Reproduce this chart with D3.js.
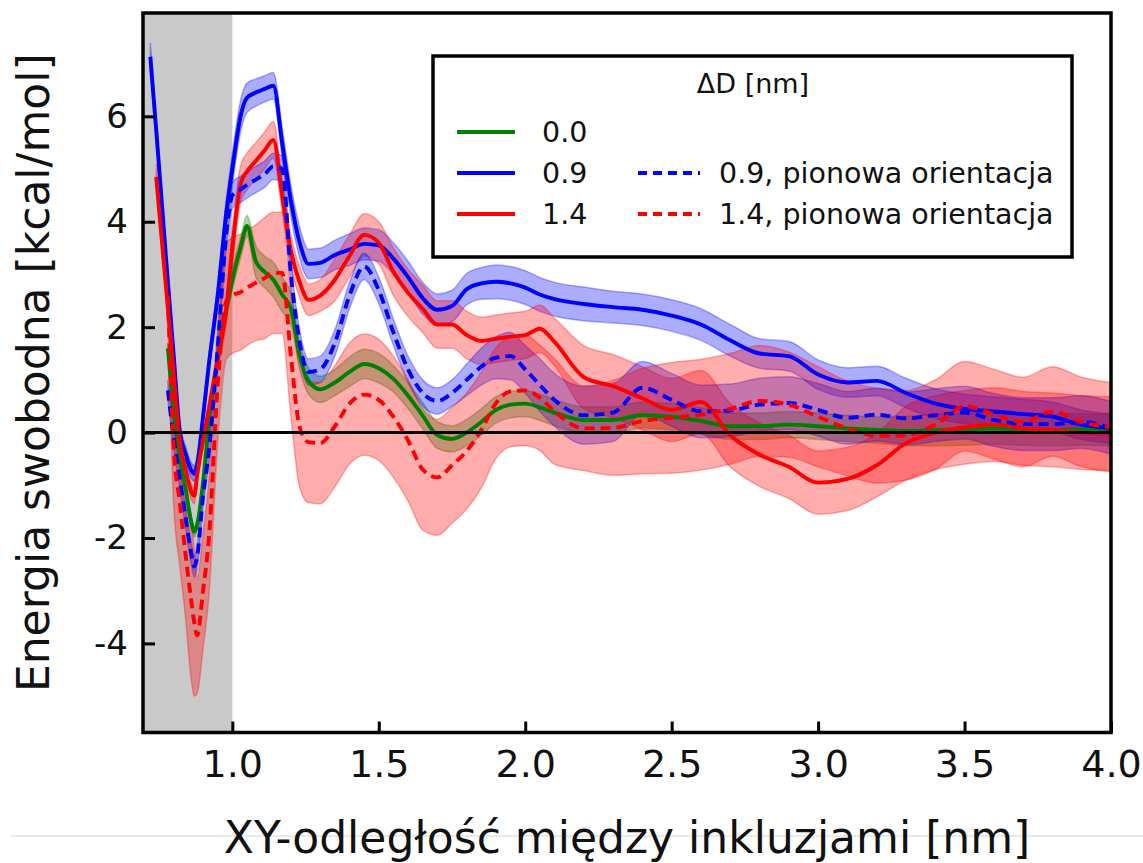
<!DOCTYPE html>
<html>
<head>
<meta charset="utf-8">
<script src="https://cdn.jsdelivr.net/npm/d3@7"></script>
<style>
  body { margin: 0; background: #fff; }
  svg { display: block; font-family: 'DejaVu Sans', Verdana, sans-serif; }
</style>
</head>
<body>
<div id="chart"></div>
<script>
// XY distance grid [nm]
const dist = [0.72, 0.74, 0.76, 0.78, 0.80, 0.82, 0.84, 0.86, 0.87, 0.88,
  0.90, 0.92, 0.95, 0.98, 1.00, 1.03, 1.05, 1.08, 1.11, 1.14,
  1.17, 1.20, 1.23, 1.26, 1.30, 1.35, 1.40, 1.45, 1.50, 1.55,
  1.60, 1.65, 1.70, 1.75, 1.80, 1.85, 1.90, 1.95, 2.00, 2.05,
  2.10, 2.20, 2.30, 2.40, 2.50, 2.60, 2.70, 2.80, 2.90, 3.00,
  3.10, 3.20, 3.30, 3.40, 3.50, 3.60, 3.70, 3.80, 3.90, 4.00];

// dD = 0.0
const g00 = [null, null, null, 1.6, 0.4, -0.45, -1.05, -1.7, -1.88, -1.75,
  -0.95, 0.2, 1.4, 2.35, 2.9, 3.55, 3.92, 3.25, 3.05, 2.9,
  2.62, 2.35, 1.45, 0.98, 0.82, 0.95, 1.15, 1.3, 1.22, 1.02,
  0.7, 0.32, -0.05, -0.12, 0.0, 0.2, 0.43, 0.53, 0.55, 0.48,
  0.38, 0.24, 0.24, 0.33, 0.3, 0.22, 0.12, 0.12, 0.15, 0.12,
  0.08, 0.05, 0.03, 0.05, 0.06, 0.08, 0.06, 0.05, 0.06, 0.05];
const g00Err = [0, 0, 0, 0.1, 0.1, 0.1, 0.1, 0.1, 0.1, 0.1,
  0.1, 0.1, 0.12, 0.15, 0.2, 0.2, 0.2, 0.3, 0.3, 0.33,
  0.33, 0.3, 0.25, 0.25, 0.25, 0.25, 0.28, 0.28, 0.28, 0.25,
  0.25, 0.25, 0.25, 0.25, 0.25, 0.25, 0.25, 0.25, 0.25, 0.25,
  0.25, 0.25, 0.25, 0.25, 0.25, 0.25, 0.25, 0.25, 0.25, 0.25,
  0.25, 0.25, 0.28, 0.3, 0.3, 0.3, 0.3, 0.3, 0.3, 0.3];

// dD = 0.9
const b09 = [7.13, 5.75, 4.3, 2.85, 1.45, 0.05, -0.4, -0.72, -0.78, -0.6,
  0.3, 1.3, 2.6, 4.2, 5.0, 6.05, 6.35, 6.45, 6.52, 6.58,
  5.5, 4.4, 3.6, 3.2, 3.22, 3.37, 3.47, 3.58, 3.55, 3.3,
  2.95, 2.55, 2.33, 2.4, 2.72, 2.83, 2.86, 2.83, 2.75, 2.62,
  2.53, 2.44, 2.38, 2.33, 2.22, 2.05, 1.75, 1.5, 1.45, 1.1,
  0.95, 0.98, 0.75, 0.55, 0.45, 0.4, 0.35, 0.3, 0.15, 0.08];
const b09Err = [0.26, 0.2, 0.15, 0.15, 0.15, 0.15, 0.15, 0.15, 0.15, 0.15,
  0.15, 0.15, 0.2, 0.25, 0.3, 0.3, 0.28, 0.26, 0.25, 0.25,
  0.3, 0.3, 0.3, 0.28, 0.28, 0.28, 0.3, 0.3, 0.3, 0.3,
  0.3, 0.3, 0.3, 0.3, 0.3, 0.3, 0.32, 0.32, 0.32, 0.32,
  0.32, 0.32, 0.3, 0.3, 0.3, 0.3, 0.3, 0.28, 0.28, 0.28,
  0.28, 0.28, 0.28, 0.28, 0.28, 0.28, 0.28, 0.28, 0.28, 0.28];

// dD = 1.4
const r14 = [null, 4.85, 3.6, 2.35, 1.1, -0.15, -0.7, -1.12, -1.2, -0.8,
  -0.15, 0.45, 1.4, 2.35, 3.5, 4.75, 4.95, 5.15, 5.35, 5.55,
  4.5, 3.45, 2.85, 2.52, 2.6, 2.9, 3.35, 3.75, 3.6, 3.05,
  2.65, 2.35, 2.05, 2.05, 1.85, 1.74, 1.78, 1.82, 1.85, 1.97,
  1.72, 1.05, 0.88, 0.65, 0.43, 0.58, -0.05, -0.42, -0.65, -0.95,
  -0.88, -0.62, -0.2, 0.0, 0.1, 0.15, 0.08, 0.05, 0.0, -0.02];
const r14Err = [0, 0.25, 0.2, 0.15, 0.15, 0.15, 0.15, 0.15, 0.15, 0.15,
  0.15, 0.15, 0.2, 0.25, 0.35, 0.35, 0.35, 0.35, 0.35, 0.35,
  0.3, 0.3, 0.3, 0.3, 0.3, 0.4, 0.4, 0.4, 0.4, 0.45,
  0.45, 0.45, 0.45, 0.45, 0.45, 0.45, 0.45, 0.45, 0.45, 0.45,
  0.45, 0.6, 0.6, 0.6, 0.6, 0.6, 0.6, 0.6, 0.6, 0.6,
  0.6, 0.6, 0.7, 0.7, 0.7, 0.7, 0.7, 0.7, 0.7, 0.7];

// dD = 0.9, vertical orientation
const b09v = [null, null, null, 0.8, -0.1, -0.85, -1.6, -2.3, -2.54, -2.35,
  -1.2, -0.35, 1.6, 3.8, 4.5, 4.62, 4.7, 4.8, 4.9, 5.05,
  5.0, 3.0, 1.7, 1.15, 1.2, 1.7, 2.6, 3.15, 2.7, 1.9,
  1.2, 0.75, 0.6, 0.75, 1.0, 1.25, 1.42, 1.45, 1.2, 0.9,
  0.62, 0.33, 0.38, 0.85, 0.62, 0.4, 0.42, 0.53, 0.56, 0.43,
  0.28, 0.34, 0.27, 0.33, 0.38, 0.24, 0.16, 0.16, 0.2, 0.09];
const b09vErr = [0, 0, 0, 0.2, 0.2, 0.2, 0.2, 0.2, 0.2, 0.2,
  0.2, 0.2, 0.2, 0.25, 0.25, 0.25, 0.25, 0.25, 0.25, 0.25,
  0.25, 0.25, 0.25, 0.25, 0.25, 0.25, 0.25, 0.25, 0.25, 0.25,
  0.25, 0.25, 0.25, 0.25, 0.3, 0.35, 0.4, 0.45, 0.45, 0.5,
  0.5, 0.55, 0.55, 0.5, 0.5, 0.5, 0.5, 0.5, 0.5, 0.5,
  0.5, 0.5, 0.5, 0.5, 0.5, 0.5, 0.5, 0.5, 0.5, 0.5];

// dD = 1.4, vertical orientation
const r14v = [null, null, null, 2.6, -0.3, -1.3, -2.3, -3.2, -3.6, -3.85,
  -3.0, -2.0, 0.9, 2.5, 2.6, 2.67, 2.75, 2.84, 2.93, 3.03,
  3.03, 1.45, 0.1, -0.18, -0.2, 0.12, 0.55, 0.72, 0.62, 0.3,
  -0.15, -0.7, -0.85, -0.62, -0.35, 0.05, 0.56, 0.78, 0.8, 0.66,
  0.4, 0.08, 0.09, 0.22, 0.28, 0.34, 0.45, 0.6, 0.53, 0.3,
  0.08, -0.06, -0.05, 0.15, 0.5, 0.35, 0.2, 0.4, 0.2, 0.1];
const r14vErr = [0, 0, 0, 0.6, 1.1, 1.2, 1.2, 1.5, 1.4, 1.1,
  1.1, 1.1, 1.1, 1.1, 1.1, 1.1, 1.1, 1.1, 1.15, 1.15,
  1.15, 1.15, 1.15, 1.15, 1.15, 1.15, 1.15, 1.15, 1.15, 1.15,
  1.15, 1.15, 1.1, 1.1, 1.1, 1.1, 1.05, 1.05, 1.05, 1.0,
  1.0, 0.8, 0.9, 1.0, 1.05, 1.05, 1.05, 1.05, 1.0, 0.95,
  0.9, 0.9, 0.85, 0.85, 0.85, 0.85, 0.85, 0.85, 0.85, 0.85];

const xTicks = [1.0, 1.5, 2.0, 2.5, 3.0, 3.5, 4.0];
const yTicks = [-4, -2, 0, 2, 4, 6];

const series = [
  {label: '0.0', color: '#008000', dashed: false, y: g00, err: g00Err},
  {label: '0.9', color: '#0000ff', dashed: false, y: b09, err: b09Err},
  {label: '1.4', color: '#ff0000', dashed: false, y: r14, err: r14Err},
  {label: '0.9, pionowa orientacja', color: '#0000ff', dashed: true, y: b09v, err: b09vErr},
  {label: '1.4, pionowa orientacja', color: '#ff0000', dashed: true, y: r14v, err: r14vErr},
];

const width = 1143, height = 863;
const margin = {top: 13, right: 32, bottom: 130.5, left: 143};
const DASH = '10,6';
const FONT = "'DejaVu Sans', Verdana, sans-serif";

const svg = d3.select('#chart')
  .append('svg')
  .attr('width', width)
  .attr('height', height);

const x = d3.scaleLinear()
  .domain([0.695, 4.0])
  .range([margin.left, width - margin.right]);
const y = d3.scaleLinear()
  .domain([-5.69, 7.96])
  .range([height - margin.bottom, margin.top]);

// thin page rule behind the x label
svg.append('line')
  .attr('x1', 11).attr('x2', width)
  .attr('y1', 836).attr('y2', 836)
  .attr('stroke', '#d4d4d4').attr('stroke-width', 1);

svg.append('clipPath').attr('id', 'plot-clip')
  .append('rect')
  .attr('x', margin.left).attr('y', margin.top)
  .attr('width', x.range()[1] - x.range()[0])
  .attr('height', y.range()[0] - y.range()[1]);

// grey region below 1.0 nm
svg.append('rect')
  .attr('x', x(0.695)).attr('y', y(7.96))
  .attr('width', x(1.0) - x(0.695))
  .attr('height', y(-5.69) - y(7.96))
  .attr('fill', '#c9c9c9');

const plot = svg.append('g').attr('clip-path', 'url(#plot-clip)');

const rows = s => dist.map((d, i) => ({x: d, y: s.y[i], e: s.err[i]}));

const area = d3.area()
  .defined(d => d.y != null)
  .x(d => x(d.x))
  .y0(d => y(d.y - d.e))
  .y1(d => y(d.y + d.e))
  .curve(d3.curveMonotoneX);

const line = d3.line()
  .defined(d => d.y != null)
  .x(d => x(d.x))
  .y(d => y(d.y))
  .curve(d3.curveMonotoneX);

// bands first, then lines on top
plot.selectAll('path.band')
  .data(series)
  .join('path')
    .attr('class', 'band')
    .attr('d', s => area(rows(s)))
    .attr('fill', s => s.color)
    .attr('fill-opacity', 0.32)
    .attr('stroke', s => s.color)
    .attr('stroke-opacity', 0.3)
    .attr('stroke-width', 1.5);

plot.selectAll('path.curve')
  .data(series)
  .join('path')
    .attr('class', 'curve')
    .attr('d', s => line(rows(s)))
    .attr('fill', 'none')
    .attr('stroke', s => s.color)
    .attr('stroke-width', 3.9)
    .attr('stroke-dasharray', s => s.dashed ? DASH : null);

// zero line
svg.append('line')
  .attr('x1', x.range()[0]).attr('x2', x.range()[1])
  .attr('y1', y(0)).attr('y2', y(0))
  .attr('stroke', '#000').attr('stroke-width', 3);

// axes, ticks pointing inward
const xAxis = svg.append('g')
  .attr('transform', `translate(0,${y.range()[0]})`)
  .call(d3.axisBottom(x).tickValues(xTicks)
    .tickFormat(d3.format('.1f'))
    .tickSizeInner(-11).tickSizeOuter(0).tickPadding(18));
xAxis.select('.domain').remove();
xAxis.selectAll('line').attr('stroke-width', 3);
xAxis.selectAll('text')
  .attr('font-size', 38).attr('font-family', FONT)
  .attr('fill', '#111');

const yAxis = svg.append('g')
  .attr('transform', `translate(${margin.left},0)`)
  .call(d3.axisLeft(y).tickValues(yTicks)
    .tickFormat(d => String(d))
    .tickSizeInner(-12).tickSizeOuter(0).tickPadding(15));
yAxis.select('.domain').remove();
yAxis.selectAll('line').attr('stroke-width', 3);
yAxis.selectAll('text')
  .attr('font-size', 34).attr('font-family', FONT)
  .attr('fill', '#111');

// frame
svg.append('rect')
  .attr('x', x.range()[0]).attr('y', y.range()[1])
  .attr('width', x.range()[1] - x.range()[0])
  .attr('height', y.range()[0] - y.range()[1])
  .attr('fill', 'none')
  .attr('stroke', '#000').attr('stroke-width', 3.5);

// axis titles
svg.append('text')
  .attr('x', (x.range()[0] + x.range()[1]) / 2)
  .attr('y', 853)
  .attr('text-anchor', 'middle')
  .attr('font-size', 44)
  .attr('fill', '#111')
  .text('XY-odległość między inkluzjami [nm]');

svg.append('text')
  .attr('transform', `translate(49,${(y.range()[0] + y.range()[1]) / 2}) rotate(-90)`)
  .attr('text-anchor', 'middle')
  .attr('font-size', 44)
  .attr('fill', '#111')
  .text('Energia swobodna [kcal/mol]');

// legend
const legend = svg.append('g');
legend.append('rect')
  .attr('x', 433).attr('y', 56)
  .attr('width', 639).attr('height', 201)
  .attr('fill', '#fff')
  .attr('stroke', '#000').attr('stroke-width', 3.5);
legend.append('text')
  .attr('x', 753).attr('y', 93)
  .attr('text-anchor', 'middle')
  .attr('font-size', 27)
  .attr('fill', '#111')
  .text('ΔD [nm]');

const rowY = [132, 173, 214];
const slots = [
  {s: series[0], col: 0, row: 0},
  {s: series[1], col: 0, row: 1},
  {s: series[2], col: 0, row: 2},
  {s: series[3], col: 1, row: 1},
  {s: series[4], col: 1, row: 2},
];
const colX = [{x1: 457, x2: 515, tx: 542}, {x1: 638, x2: 700, tx: 719}];

const item = legend.selectAll('g.item')
  .data(slots)
  .join('g')
    .attr('class', 'item')
    .attr('transform', d => `translate(0,${rowY[d.row]})`);
item.append('line')
  .attr('x1', d => colX[d.col].x1).attr('x2', d => colX[d.col].x2)
  .attr('stroke', d => d.s.color)
  .attr('stroke-width', 3.9)
  .attr('stroke-dasharray', d => d.s.dashed ? '9,6' : null);
item.append('text')
  .attr('x', d => colX[d.col].tx)
  .attr('dy', '0.36em')
  .attr('font-size', 28.5)
  .attr('fill', '#111')
  .text(d => d.s.label);
</script>
</body>
</html>
